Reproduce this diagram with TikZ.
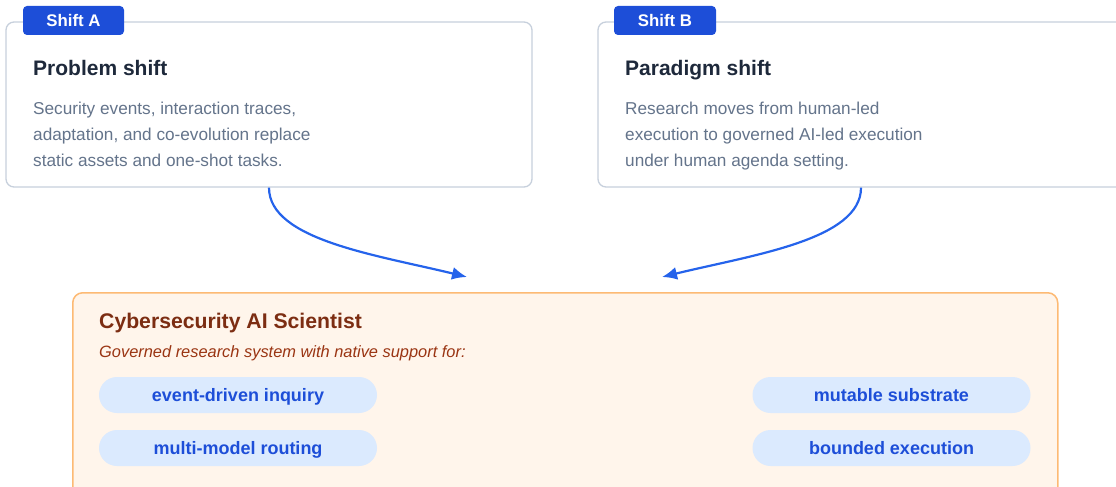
\documentclass[tikz,border=0pt]{standalone}
\usepackage{fontspec}
\setmainfont{Liberation Sans}
\usetikzlibrary{arrows.meta}
\definecolor{tabblue}{HTML}{1D4ED8}
\definecolor{arrowblue}{HTML}{2563EB}
\definecolor{cardborder}{HTML}{C7D0DC}
\definecolor{titlecol}{HTML}{1E293B}
\definecolor{bodycol}{HTML}{64748B}
\definecolor{panelfill}{HTML}{FFF5EB}
\definecolor{panelborder}{HTML}{FDBA74}
\definecolor{paneltitle}{HTML}{7C2D12}
\definecolor{panelsub}{HTML}{9A3412}
\definecolor{pillfill}{HTML}{DBEAFE}
\definecolor{pilltext}{HTML}{1D4ED8}
\tikzset{
  card/.style={draw=cardborder, line width=1.3pt, fill=white, rounded corners=8pt,
    minimum width=526pt, minimum height=165pt, inner sep=0pt},
  tabbox/.style={fill=tabblue, rounded corners=4pt, text=white, inner sep=0pt,
    minimum height=29pt, font=\bfseries\fontsize{16.8}{20}\selectfont,
    text height=12pt, text depth=0pt},
  cardtitle/.style={anchor=base west, inner sep=0pt, text=titlecol,
    font=\bfseries\fontsize{21}{24}\selectfont},
  cardbody/.style={anchor=base west, inner sep=0pt, text=bodycol,
    font=\fontsize{17.2}{20}\selectfont},
  panel/.style={draw=panelborder, line width=1.5pt, fill=panelfill, rounded corners=10pt,
    minimum width=985pt, minimum height=230pt, inner sep=0pt, anchor=north west},
  pill/.style={fill=pillfill, rounded corners=18pt, minimum width=278pt, minimum height=36pt,
    inner sep=0pt, text=pilltext, font=\bfseries\fontsize{18}{20}\selectfont,
    text height=12.9pt, text depth=0pt},
  conn/.style={draw=arrowblue, line width=2.2pt, -{Latex[length=15pt,width=13pt]}}
}
\begin{document}
\begin{tikzpicture}[x=1pt,y=-1pt]
\useasboundingbox (0,0) rectangle (1116,487);
\clip (0,0) rectangle (1116,487);

% top cards
\node[card] (A) at (269,104.5) {};
\node[tabbox, minimum width=101pt] (tA) at (73.5,20.5) {Shift A};
\node[cardtitle] (At) at (33,75) {Problem shift};
\node[cardbody] (A1) at (33,114.5) {Security events, interaction traces,};
\node[cardbody] (A2) at (33,140.5) {adaptation, and co-evolution replace};
\node[cardbody] (A3) at (33,166.5) {static assets and one-shot tasks.};

\node[card] (B) at (861,104.5) {};
\node[tabbox, minimum width=102pt] (tB) at (665,20.5) {Shift B};
\node[cardtitle] (Bt) at (625,75) {Paradigm shift};
\node[cardbody] (B1) at (625,114.5) {Research moves from human-led};
\node[cardbody] (B2) at (625,140.5) {execution to governed AI-led execution};
\node[cardbody] (B3) at (625,166.5) {under human agenda setting.};

% bottom panel
\node[panel] (P) at (72,292) {};
\node[anchor=base west, inner sep=0pt, text=paneltitle,
  font=\bfseries\fontsize{21.2}{24}\selectfont] (Pt) at (99,328) {Cybersecurity AI Scientist};
\node[anchor=base west, inner sep=0pt, text=panelsub,
  font=\itshape\fontsize{16.4}{20}\selectfont] (Ps) at (99,357) {Governed research system with native support for:};

\node[pill] (p1) at (238,395) {event-driven inquiry};
\node[pill] (p2) at (238,448) {multi-model routing};
\node[pill] (p3) at (891.5,395) {mutable substrate};
\node[pill] (p4) at (891.5,448) {bounded execution};

% connectors
\coordinate (eA) at (467,277);
\coordinate (eB) at (662,277);
\draw[conn] (A.south) .. controls (269,240) and (377,255) .. (eA);
\draw[conn] (B.south) .. controls (861,240) and (752,255) .. (eB);
\end{tikzpicture}
\end{document}
